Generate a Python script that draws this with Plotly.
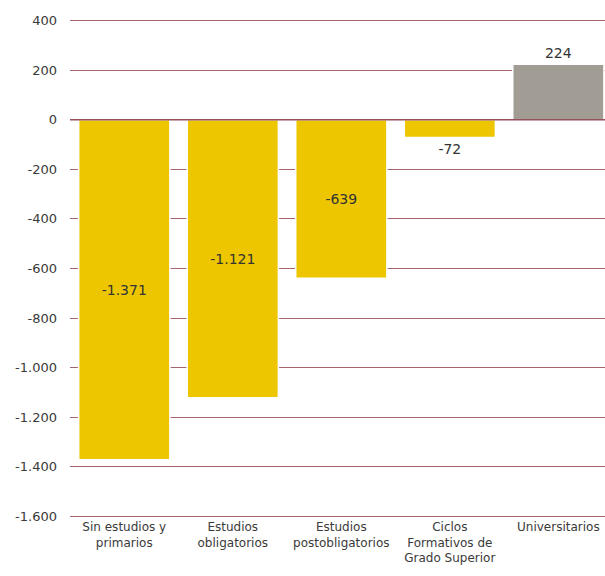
import plotly.graph_objects as go

categories = [
    "Sin estudios y<br>primarios",
    "Estudios<br>obligatorios",
    "Estudios<br>postobligatorios",
    "Ciclos<br>Formativos de<br>Grado Superior",
    "Universitarios",
]
values = [-1371, -1121, -639, -72, 224]
value_labels = ["-1.371", "-1.121", "-639", "-72", "224"]
bar_colors = ["#EDC600", "#EDC600", "#EDC600", "#EDC600", "#A19D94"]
text_positions = ["inside", "inside", "inside", "outside", "outside"]

y_ticks = [400, 200, 0, -200, -400, -600, -800, -1000, -1200, -1400, -1600]
y_tick_labels = ["400", "200", "0", "-200", "-400", "-600", "-800",
                 "-1.000", "-1.200", "-1.400", "-1.600"]

fig = go.Figure(
    go.Bar(
        x=categories,
        y=values,
        marker=dict(color=bar_colors, line=dict(color="white", width=1.5)),
        text=value_labels,
        texttemplate="%{text}",
        textposition=text_positions,
        insidetextanchor="middle",
        textfont=dict(color="#333333", size=14),
        cliponaxis=False,
    )
)

# baseline drawn over the bars
fig.add_shape(
    type="line", xref="paper", yref="y",
    x0=0, x1=1, y0=0, y1=0,
    line=dict(color="#94505B", width=1.5),
    layer="above",
)

fig.update_layout(
    width=605,
    height=576,
    margin=dict(l=70, r=0, t=19, b=58),
    plot_bgcolor="white",
    paper_bgcolor="white",
    bargap=0.16,
    showlegend=False,
    font=dict(family="DejaVu Sans", size=12, color="#3a3a3a"),
)
fig.update_yaxes(
    range=[-1606, 406],
    tickvals=y_ticks,
    ticktext=y_tick_labels,
    gridcolor="#A6646E",
    gridwidth=1,
    zeroline=False,
    tickfont=dict(size=13),
    ticks="",
    ticklabelstandoff=12,
)
fig.update_xaxes(
    range=[-0.5, 4.43],
    tickfont=dict(size=12),
    ticks="",
)

fig.write_html("out.html")
